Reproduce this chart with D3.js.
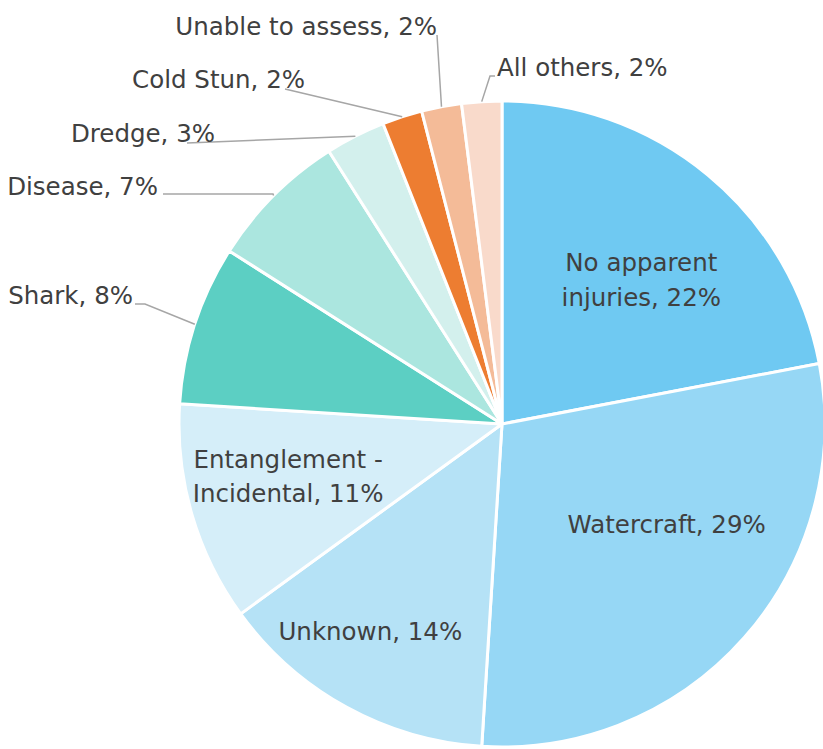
<!DOCTYPE html>
<html>
<head>
<meta charset="utf-8">
<script src="https://cdn.jsdelivr.net/npm/d3@7"></script>
<style>
  body { margin: 0; background: #fff; overflow: hidden; }
  svg text { font-family: "DejaVu Sans", sans-serif; fill: #404040; }
</style>
</head>
<body>
<div id="chart"></div>
<script>
// categories in clockwise order from 12 o'clock
const categories = ["No apparent injuries", "Watercraft", "Unknown", "Entanglement - Incidental",
  "Shark", "Disease", "Dredge", "Cold Stun", "Unable to assess", "All others"];
const values = [22, 29, 14, 11, 8, 7, 3, 2, 2, 2];
const colors = ["#6fc9f2", "#96d7f5", "#b5e2f6", "#d5eef9", "#5ccfc3",
  "#abe6df", "#d3f0ed", "#ed7d31", "#f4bb98", "#f9dacb"];
// label text lines per slice
const labelLines = [
  ["No apparent", "injuries, 22%"], ["Watercraft, 29%"], ["Unknown, 14%"],
  ["Entanglement -", "Incidental, 11%"], ["Shark, 8%"], ["Disease, 7%"],
  ["Dredge, 3%"], ["Cold Stun, 2%"], ["Unable to assess, 2%"], ["All others, 2%"]
];

const width = 823, height = 749;
const cx = 502, cy = 424, radius = 323;

const svg = d3.select("#chart").append("svg")
    .attr("width", width)
    .attr("height", height);

const g = svg.append("g").attr("transform", `translate(${cx},${cy})`);

const data = categories.map((c, i) => ({ name: c, value: values[i], color: colors[i], lines: labelLines[i] }));

const pie = d3.pie().sort(null).value(d => d.value);
const arcs = pie(data);

const arc = d3.arc().innerRadius(0).outerRadius(radius);

g.selectAll("path.slice")
    .data(arcs)
    .enter()
    .append("path")
    .attr("class", "slice")
    .attr("d", arc)
    .attr("fill", d => d.data.color)
    .attr("stroke", "#fff")
    .attr("stroke-width", 3)
    .attr("stroke-linejoin", "round");

const fontSize = 24.5;

// inside labels: radius fraction, shift
const inside = {
  0: { r: 0.56, dx: 24, dy: -5 },
  1: { r: 0.56, dx: 29, dy: -19 },
  2: { r: 0.66, dx: -29, dy: 20 },
  3: { r: 0.68, dx: -3, dy: -9 }
};

Object.keys(inside).forEach(k => {
  const d = arcs[+k];
  const o = inside[k];
  const a = (d.startAngle + d.endAngle) / 2;
  const x = Math.sin(a) * radius * o.r + o.dx;
  const y = -Math.cos(a) * radius * o.r + o.dy;
  const lh = fontSize * 1.42;
  const t = g.append("text")
      .attr("text-anchor", "middle")
      .attr("font-size", fontSize);
  d.data.lines.forEach((ln, j) => {
    t.append("tspan")
      .attr("x", x)
      .attr("y", y + (j - (d.data.lines.length - 1) / 2) * lh + fontSize * 0.36)
      .text(ln);
  });
});

// outside labels: elbow point and end point relative to the pie centre
const outside = [
  { i: 4, elbow: [-357, -120], end: [-367, -120], anchor: "end", tx: -369, ty: -120 },
  { i: 5, elbow: [-229, -230], end: [-339, -230], anchor: "end", tx: -344, ty: -229 },
  { i: 6, elbow: [-315, -281], end: [-315, -281], anchor: "end", tx: -287, ty: -282 },
  { i: 7, elbow: [-217, -335], end: [-217, -335], anchor: "end", tx: -197, ty: -336 },
  { i: 8, elbow: [-65, -389], end: [-65, -389], anchor: "end", tx: -65, ty: -389 },
  { i: 9, elbow: [-12, -348], end: [-7, -348], anchor: "start", tx: -5, ty: -348 }
];

outside.forEach(o => {
  const d = arcs[o.i];
  const a = (d.startAngle + d.endAngle) / 2;
  const p0 = [Math.sin(a) * radius, -Math.cos(a) * radius];
  g.append("polyline")
    .attr("points", [p0, o.elbow, o.end].map(p => p.join(",")).join(" "))
    .attr("fill", "none")
    .attr("stroke", "#a6a6a6")
    .attr("stroke-width", 1.5);
  g.append("text")
    .attr("x", o.tx)
    .attr("y", o.ty)
    .attr("text-anchor", o.anchor)
    .attr("font-size", fontSize)
    .text(d.data.lines[0]);
});
</script>
</body>
</html>
